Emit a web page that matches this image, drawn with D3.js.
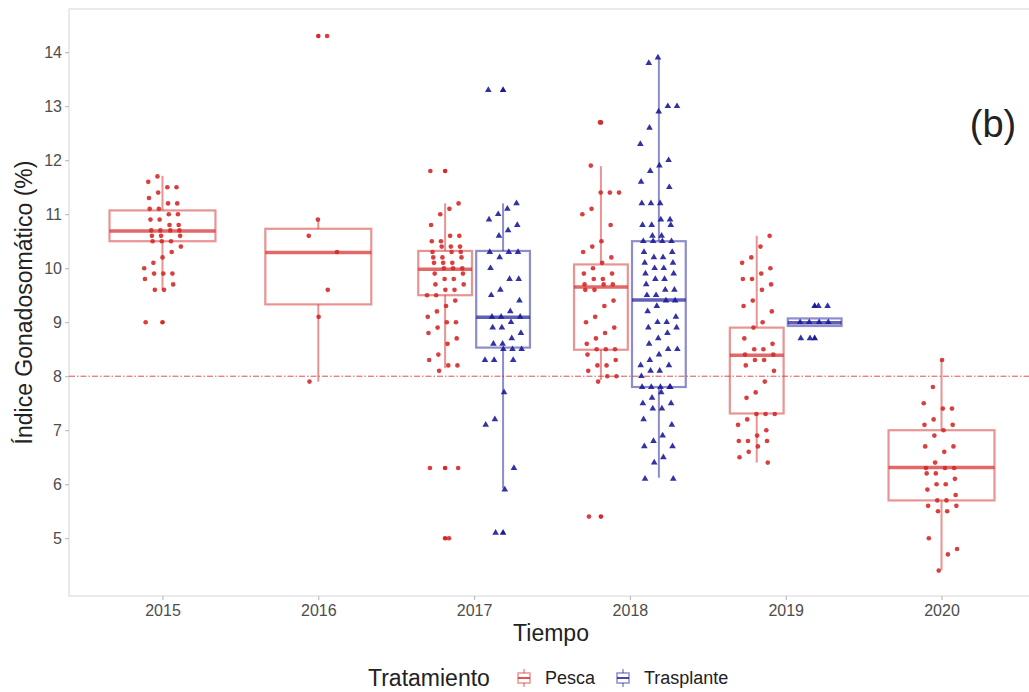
<!DOCTYPE html>
<meta charset="utf-8">
<style>
  body { margin: 0; background: #fff; font-family: "Liberation Sans", Arial, sans-serif; }
  .axis text { fill: #4d4d4d; font-size: 16px; }
  .axis line { stroke: #b3b3b3; }
  .axis path { display: none; }
</style>
<body></body>
<script src="https://d3js.org/d3.v7.min.js"></script>
<script>
// categories
var years = ["2015", "2016", "2017", "2018", "2019", "2020"];
var tratamientos = ["Pesca", "Trasplante"];
var yTicks = [5, 6, 7, 8, 9, 10, 11, 12, 13, 14];
var umbral = 8;

var pesca2015 = [11.7, 11.6, 11.5, 11.5, 11.4, 11.3, 11.2, 11.2, 11.1, 11.1, 11.0, 11.0, 10.9, 10.9, 10.8, 10.8,
  10.7, 10.7, 10.7, 10.7, 10.6, 10.6, 10.6, 10.5, 10.5, 10.5, 10.4, 10.3, 10.2, 10.1, 10.0, 9.9, 9.9, 9.9,
  9.8, 9.7, 9.6, 9.6, 9.0];
var pesca2016 = [14.3, 10.9, 10.6, 10.3, 9.6, 9.1, 7.9];
var pesca2017 = [11.8, 11.2, 11.1, 11.0, 10.8, 10.6, 10.6, 10.5, 10.5, 10.4, 10.4, 10.4, 10.3, 10.3, 10.3,
  10.2, 10.2, 10.2, 10.1, 10.1, 10.1, 10.0, 10.0, 10.0, 9.9, 9.9, 9.8, 9.8, 9.7, 9.7, 9.6, 9.6, 9.5, 9.5,
  9.4, 9.3, 9.2, 9.1, 9.0, 9.0, 8.9, 8.8, 8.7, 8.6, 8.4, 8.3, 8.2, 8.2, 8.1, 6.3, 6.3, 5.0];
var trasplante2017 = [13.3, 11.2, 11.1, 11.0, 10.9, 10.8, 10.7, 10.6, 10.3, 10.3, 10.3, 10.2, 10.0, 9.8, 9.8,
  9.6, 9.5, 9.4, 9.2, 9.1, 9.1, 9.1, 9.0, 8.9, 8.9, 8.8, 8.7, 8.6, 8.6, 8.5, 8.5, 8.5, 8.3, 8.3, 8.3,
  7.7, 7.2, 7.1, 6.3, 5.9, 5.1];
var pesca2018 = [12.7, 11.9, 11.4, 11.4, 11.4, 11.1, 11.0, 10.8, 10.5, 10.4, 10.3, 10.2, 10.1, 10.0, 9.9, 9.9,
  9.8, 9.8, 9.7, 9.7, 9.7, 9.6, 9.6, 9.4, 9.3, 9.1, 9.0, 8.9, 8.8, 8.7, 8.6, 8.5, 8.5, 8.5, 8.4, 8.3,
  8.2, 8.2, 8.1, 8.0, 8.0, 7.9, 5.4];
var trasplante2018 = [13.9, 13.8, 13.0, 13.0, 12.9, 12.6, 12.3, 12.0, 11.9, 11.8, 11.6, 11.5, 11.2, 11.2, 11.2,
  10.9, 10.9, 10.8, 10.8, 10.8, 10.6, 10.6, 10.5, 10.5, 10.5, 10.5, 10.3, 10.3, 10.2, 10.2, 10.1, 10.1,
  10.0, 10.0, 9.9, 9.9, 9.8, 9.8, 9.7, 9.6, 9.6, 9.5, 9.5, 9.4, 9.4, 9.3, 9.2, 9.1, 9.0, 9.0, 8.9, 8.9,
  8.8, 8.7, 8.6, 8.5, 8.5, 8.4, 8.3, 8.2, 8.2, 8.1, 8.1, 8.0, 7.8, 7.8, 7.8, 7.8, 7.8, 7.7, 7.6, 7.5,
  7.5, 7.4, 7.4, 7.2, 7.1, 6.9, 6.8, 6.7, 6.7, 6.5, 6.4, 6.1, 6.1];
var pesca2019 = [10.6, 10.4, 10.2, 10.1, 10.0, 9.9, 9.8, 9.8, 9.7, 9.6, 9.4, 9.3, 9.2, 9.0, 8.9, 8.7, 8.6,
  8.5, 8.5, 8.4, 8.4, 8.3, 8.3, 8.2, 8.1, 7.9, 7.7, 7.6, 7.3, 7.3, 7.3, 7.2, 7.1, 7.0, 6.9, 6.8, 6.8,
  6.8, 6.7, 6.6, 6.5, 6.4];
var trasplante2019 = [9.3, 9.3, 9.0, 9.0, 9.0, 9.0, 8.7, 8.7];
var pesca2020 = [8.3, 7.8, 7.5, 7.4, 7.4, 7.2, 7.1, 7.1, 7.0, 6.9, 6.7, 6.7, 6.6, 6.4, 6.3, 6.3, 6.3, 6.2,
  6.2, 6.1, 6.0, 6.0, 5.9, 5.8, 5.7, 5.7, 5.6, 5.6, 5.5, 5.5, 5.0, 4.8, 4.7, 4.4];

// boxplot summaries as drawn in the picture
var boxYear  = ["2015", "2016", "2017", "2017", "2018", "2018", "2019", "2019", "2020"];
var boxTrat  = ["Pesca", "Pesca", "Pesca", "Trasplante", "Pesca", "Trasplante", "Pesca", "Trasplante", "Pesca"];
var boxLow   = [9.6, 7.9, 8.15, 5.92, 7.93, 6.12, 6.4, 8.93, 4.41];
var boxQ1    = [10.5, 9.33, 9.5, 8.53, 8.49, 7.8, 7.31, 8.93, 5.7];
var boxMed   = [10.69, 10.29, 9.98, 9.09, 9.65, 9.41, 8.39, 8.99, 6.31];
var boxQ3    = [11.07, 10.73, 10.32, 10.32, 10.07, 10.5, 8.9, 9.07, 7.0];
var boxHigh  = [11.71, 10.89, 11.2, 11.2, 11.89, 13.88, 10.6, 9.07, 8.3];
var boxOut   = [[9.0], [14.3], [11.8, 6.3, 5.0], [13.3, 5.1], [12.7, 5.4], [], [], [9.3, 8.7], []];

var series = [
  { year: "2015", trat: "Pesca", values: pesca2015 },
  { year: "2016", trat: "Pesca", values: pesca2016 },
  { year: "2017", trat: "Pesca", values: pesca2017 },
  { year: "2017", trat: "Trasplante", values: trasplante2017 },
  { year: "2018", trat: "Pesca", values: pesca2018 },
  { year: "2018", trat: "Trasplante", values: trasplante2018 },
  { year: "2019", trat: "Pesca", values: pesca2019 },
  { year: "2019", trat: "Trasplante", values: trasplante2019 },
  { year: "2020", trat: "Pesca", values: pesca2020 }
];

var width = 1029, height = 692;
var panel = { left: 69, right: 1035, top: 9, bottom: 596 };

var color = d3.scaleOrdinal().domain(tratamientos).range(["#d42a2a", "#1c1c99"]);

var x = d3.scalePoint().domain(years).range([panel.left, panel.right]).padding(0.6);
var unit = x.step();
var y = d3.scaleLinear().domain([3.93, 14.8]).range([panel.bottom, panel.top]);

// how many treatments in each year -> dodge
function nInYear(yr) { return boxYear.filter(function(d) { return d === yr; }).length; }
function centerOf(yr, trat) {
  if (nInYear(yr) === 1) return x(yr);
  return x(yr) + (trat === "Pesca" ? -0.186 : 0.186) * unit;
}
function boxWidth(yr) { return nInYear(yr) === 1 ? 0.68 * unit : 0.345 * unit; }

var svg = d3.select("body").append("svg")
  .attr("width", width)
  .attr("height", height);

// panel border
svg.append("rect")
  .attr("x", panel.left)
  .attr("y", panel.top)
  .attr("width", panel.right - panel.left)
  .attr("height", panel.bottom - panel.top)
  .attr("fill", "#fff")
  .attr("stroke", "#d6d6d6")
  .attr("stroke-width", 1);

// axes
svg.append("g")
  .attr("class", "axis")
  .attr("transform", "translate(" + panel.left + ",0)")
  .call(d3.axisLeft(y).tickValues(yTicks).tickSize(4).tickPadding(3));

svg.append("g")
  .attr("class", "axis")
  .attr("transform", "translate(0," + panel.bottom + ")")
  .call(d3.axisBottom(x).tickSize(4).tickPadding(5));

// threshold line
svg.append("line")
  .attr("x1", panel.left).attr("x2", panel.right)
  .attr("y1", y(umbral)).attr("y2", y(umbral))
  .attr("stroke", "#e0504f")
  .attr("stroke-width", 1)
  .attr("stroke-dasharray", "6,2,1.5,2");

// boxplots
var boxes = boxYear.map(function(yr, i) {
  return { year: yr, trat: boxTrat[i], lo: boxLow[i], q1: boxQ1[i], med: boxMed[i],
           q3: boxQ3[i], hi: boxHigh[i], out: boxOut[i] };
});

var bg = svg.append("g").selectAll("g")
  .data(boxes)
  .enter().append("g")
  .attr("stroke", function(d) { return color(d.trat); })
  .attr("stroke-opacity", 0.5)
  .attr("fill", "none");

bg.append("line")
  .attr("x1", function(d) { return centerOf(d.year, d.trat); })
  .attr("x2", function(d) { return centerOf(d.year, d.trat); })
  .attr("y1", function(d) { return y(d.q3); })
  .attr("y2", function(d) { return y(d.hi); })
  .attr("stroke-width", 2);

bg.append("line")
  .attr("x1", function(d) { return centerOf(d.year, d.trat); })
  .attr("x2", function(d) { return centerOf(d.year, d.trat); })
  .attr("y1", function(d) { return y(d.q1); })
  .attr("y2", function(d) { return y(d.lo); })
  .attr("stroke-width", 2);

bg.append("rect")
  .attr("x", function(d) { return centerOf(d.year, d.trat) - boxWidth(d.year) / 2; })
  .attr("y", function(d) { return y(d.q3); })
  .attr("width", function(d) { return boxWidth(d.year); })
  .attr("height", function(d) { return y(d.q1) - y(d.q3); })
  .attr("stroke-width", 2.2);

bg.append("line")
  .attr("x1", function(d) { return centerOf(d.year, d.trat) - boxWidth(d.year) / 2; })
  .attr("x2", function(d) { return centerOf(d.year, d.trat) + boxWidth(d.year) / 2; })
  .attr("y1", function(d) { return y(d.med); })
  .attr("y2", function(d) { return y(d.med); })
  .attr("stroke-width", 3.5)
  .attr("stroke-opacity", 0.7);

// markers
var circle = d3.symbol().type(d3.symbolCircle).size(17);
var triangle = d3.symbol().type(d3.symbolTriangle).size(19);
function shape(trat) { return trat === "Pesca" ? circle() : triangle(); }

// outliers at the box centre
svg.append("g").selectAll("path")
  .data(boxes.flatMap(function(d) {
    return d.out.map(function(v) { return { year: d.year, trat: d.trat, v: v }; });
  }))
  .enter().append("path")
  .attr("d", function(d) { return shape(d.trat); })
  .attr("fill", function(d) { return color(d.trat); })
  .attr("transform", function(d) {
    return "translate(" + centerOf(d.year, d.trat) + "," + y(d.v) + ")";
  });

// jittered observations (deterministic low-discrepancy jitter)
var jitterW = 0.12 * unit;
var pts = series.flatMap(function(s) {
  return s.values.map(function(v, i) {
    var j = ((i + 1) * 0.7548776662 + (s.year.charCodeAt(3) * 0.37)) % 1;
    return { year: s.year, trat: s.trat, v: v, dx: (j * 2 - 1) * jitterW };
  });
});

svg.append("g").selectAll("path")
  .data(pts)
  .enter().append("path")
  .attr("d", function(d) { return shape(d.trat); })
  .attr("fill", function(d) { return color(d.trat); })
  .attr("fill-opacity", 0.9)
  .attr("transform", function(d) {
    return "translate(" + (centerOf(d.year, d.trat) + d.dx) + "," + y(d.v) + ")";
  });

// panel label
svg.append("text")
  .attr("x", 993)
  .attr("y", 137)
  .attr("text-anchor", "middle")
  .attr("font-size", 38)
  .attr("fill", "#222")
  .text("(b)");

// axis titles
svg.append("text")
  .attr("transform", "translate(32," + ((panel.top + panel.bottom) / 2) + ") rotate(-90)")
  .attr("text-anchor", "middle")
  .attr("font-size", 23)
  .attr("fill", "#222")
  .text("Índice Gonadosomático (%)");

svg.append("text")
  .attr("x", (panel.left + panel.right) / 2 - 1)
  .attr("y", 641)
  .attr("text-anchor", "middle")
  .attr("font-size", 23)
  .attr("fill", "#222")
  .text("Tiempo");

// legend
var legend = svg.append("g").attr("transform", "translate(0,678)");
legend.append("text")
  .attr("x", 368)
  .attr("y", 8)
  .attr("font-size", 23)
  .attr("fill", "#222")
  .text("Tratamiento");

var keyX = [516, 615];
var items = legend.selectAll("g.key")
  .data(tratamientos)
  .enter().append("g")
  .attr("class", "key")
  .attr("transform", function(d, i) { return "translate(" + keyX[i] + ",0)"; });

items.append("line")
  .attr("x1", 8).attr("x2", 8).attr("y1", -9).attr("y2", 9)
  .attr("stroke", function(d) { return color(d); })
  .attr("stroke-opacity", 0.5)
  .attr("stroke-width", 1.5);
items.append("rect")
  .attr("x", 2).attr("y", -5).attr("width", 12).attr("height", 10)
  .attr("fill", "#fff")
  .attr("stroke", function(d) { return color(d); })
  .attr("stroke-opacity", 0.5)
  .attr("stroke-width", 1.5);
items.append("line")
  .attr("x1", 2).attr("x2", 14).attr("y1", 0).attr("y2", 0)
  .attr("stroke", function(d) { return color(d); })
  .attr("stroke-opacity", 0.8)
  .attr("stroke-width", 2);
items.append("text")
  .attr("x", 29)
  .attr("y", 6)
  .attr("font-size", 18)
  .attr("fill", "#222")
  .text(function(d) { return d; });
</script>
